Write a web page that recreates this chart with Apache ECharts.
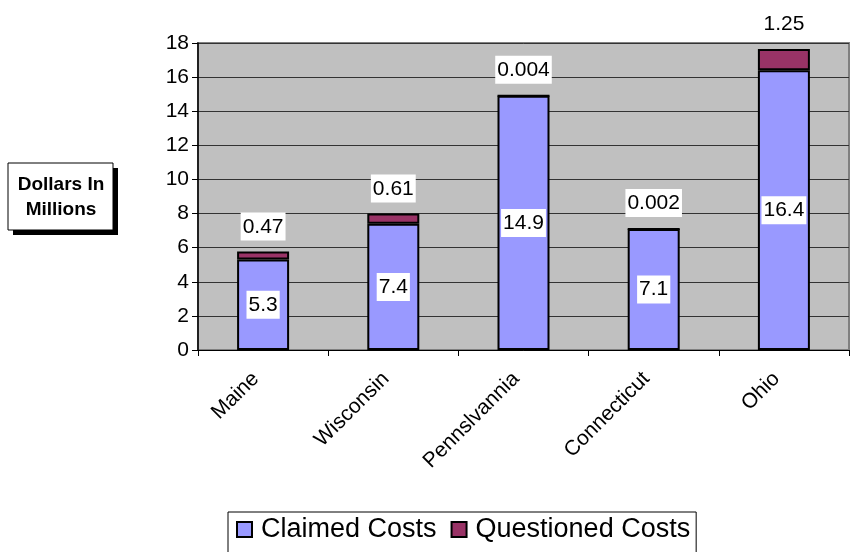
<!DOCTYPE html>
<html lang="en">
<head>
    <meta charset="UTF-8">
    <title>Claimed vs Questioned Costs</title>
    <script src="https://cdn.jsdelivr.net/npm/echarts@6/dist/echarts.min.js"></script>
    <style>
        *{
            margin: 0;
            padding: 0;
        }
        #box{
            width: 853px;
            height: 552px;
            background: #fff;
        }
    </style>
</head>
<body>
<div id="box"></div>
<script type="text/javascript">
    // data
    let states = ['Maine', 'Wisconsin', 'Pennslvannia', 'Connecticut', 'Ohio'];
    let claimed = [5.3, 7.4, 14.9, 7.1, 16.4];
    let questioned = [0.47, 0.61, 0.004, 0.002, 1.25];
    let yTicks = [0, 2, 4, 6, 8, 10, 12, 14, 16, 18];

    let font = 'Liberation Sans, Arial, sans-serif';
    let myChart = echarts.init(document.getElementById('box'));

    let labelBox = {
        show: true,
        color: '#000',
        fontFamily: font,
        fontSize: 21,
        backgroundColor: '#fff',
        padding: [4, 2, 3, 2]
    };

    let option = {
        animation: false,
        textStyle: {fontFamily: font},
        grid: {
            left: 198,
            right: 4,
            top: 43,
            bottom: 202,
            show: true,
            backgroundColor: '#C0C0C0',
            borderColor: '#808080',
            borderWidth: 2
        },
        graphic: [
            // axis title box with its drop shadow
            {
                type: 'rect',
                shape: {x: 13, y: 168, width: 105, height: 67},
                style: {fill: '#000'}
            },
            {
                type: 'rect',
                shape: {x: 8, y: 163, width: 105, height: 67},
                style: {fill: '#fff', stroke: '#000', lineWidth: 1}
            },
            {
                type: 'text',
                x: 61,
                y: 197,
                style: {
                    text: 'Dollars In\nMillions',
                    font: 'bold 19px Liberation Sans, Arial, sans-serif',
                    fill: '#000',
                    align: 'center',
                    verticalAlign: 'middle',
                    lineHeight: 25
                }
            }
        ],
        legend: {
            left: 228,
            top: 512,
            data: ['Claimed Costs', 'Questioned Costs'],
            icon: 'rect',
            itemWidth: 15,
            itemHeight: 15,
            itemGap: 14,
            backgroundColor: '#fff',
            borderColor: '#000',
            borderWidth: 1,
            padding: [4, 6, 20, 8],
            itemStyle: {borderColor: '#000', borderWidth: 2},
            textStyle: {fontFamily: font, fontSize: 27, color: '#000', padding: [0, 0, 0, 4]}
        },
        xAxis: {
            type: 'category',
            data: states,
            axisLine: {lineStyle: {color: '#000', width: 1}},
            axisTick: {show: true, length: 6, lineStyle: {color: '#000'}},
            axisLabel: {
                rotate: 45,
                fontSize: 21,
                color: '#000',
                fontFamily: font,
                verticalAlign: 'bottom',
                margin: 33
            }
        },
        yAxis: {
            type: 'value',
            min: yTicks[0],
            max: yTicks[yTicks.length - 1],
            interval: 2,
            axisLine: {show: true, lineStyle: {color: '#000', width: 1.5}},
            axisTick: {show: true, length: 6, lineStyle: {color: '#000'}},
            axisLabel: {fontSize: 21, color: '#000', fontFamily: font, margin: 9},
            splitLine: {lineStyle: {color: '#333', width: 1}}
        },
        series: [
            {
                name: 'Claimed Costs',
                type: 'bar',
                stack: 'cost',
                barWidth: 52,
                data: claimed,
                itemStyle: {color: '#9999FF', borderColor: '#000', borderWidth: 2},
                label: Object.assign({}, labelBox, {position: 'inside'})
            },
            {
                name: 'Questioned Costs',
                type: 'bar',
                stack: 'cost',
                barWidth: 52,
                data: questioned,
                itemStyle: {color: '#993366', borderColor: '#000', borderWidth: 2},
                label: Object.assign({}, labelBox, {position: 'top', distance: 11})
            }
        ]
    };
    myChart.setOption(option);
</script>
</body>
</html>
